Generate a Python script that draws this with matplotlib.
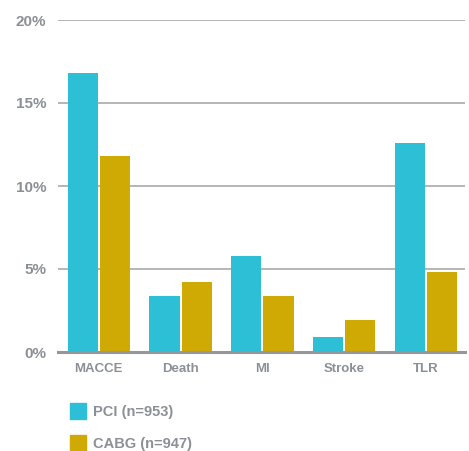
import numpy as np
import matplotlib
matplotlib.use("Agg")
import matplotlib.pyplot as plt
from matplotlib.patches import Rectangle

# event rates (%) per endpoint
categories = ["MACCE", "Death", "MI", "Stroke", "TLR"]
pci = [16.8, 3.4, 5.8, 0.9, 12.6]
cabg = [11.8, 4.2, 3.4, 1.9, 4.8]
series_labels = ["PCI (n=953)", "CABG (n=947)"]
yticks = [0, 5, 10, 15, 20]

cyan = "#2dbfd6"
gold = "#cfaa05"
txt = "#8b9097"

plt.rcParams['font.family'] = ['Liberation Sans', 'DejaVu Sans']

W, H = 469, 451
fig = plt.figure(figsize=(W/100, H/100), dpi=100)
ax = fig.add_axes([58/W, 99/H, 407/W, 332/H])

x = np.arange(len(categories))
w = 0.37
gap = 0.025
ax.bar(x - w/2 - gap/2, pci, w, color=cyan, zorder=3)
ax.bar(x + w/2 + gap/2, cabg, w, color=gold, zorder=3)

ax.set_xlim(-0.5, 4.48)
ax.set_ylim(0, 20)
ax.set_yticks(yticks)
ax.set_yticklabels([f"{v}%" for v in yticks])
ax.set_xticks(x)
ax.set_xticklabels(categories)

for v in yticks[1:]:
    ax.axhline(v, color="#a9a9a9", lw=1.2, zorder=1)
ax.axhline(0, color="#96979a", lw=2.2, zorder=4, clip_on=False)

for s in ax.spines.values():
    s.set_visible(False)
ax.tick_params(axis="y", length=0, pad=8.5, labelsize=11, labelcolor=txt)
ax.tick_params(axis="x", length=0, pad=8, labelsize=9.5, labelcolor=txt)
for lab in ax.get_xticklabels() + ax.get_yticklabels():
    lab.set_fontweight("bold")

# legend drawn by hand below the axes
for i, (lab, col) in enumerate(zip(series_labels, [cyan, gold])):
    top = 403 + i * 32
    fig.patches.append(Rectangle((70/W, 1 - (top + 16)/H), 16/W, 16/H,
                                 transform=fig.transFigure, color=col))
    fig.text(93/W, 1 - (top + 9)/H, lab, color=txt, fontsize=10.5,
             fontweight="bold", va="center", ha="left")

fig.savefig("out.png", dpi=100)
